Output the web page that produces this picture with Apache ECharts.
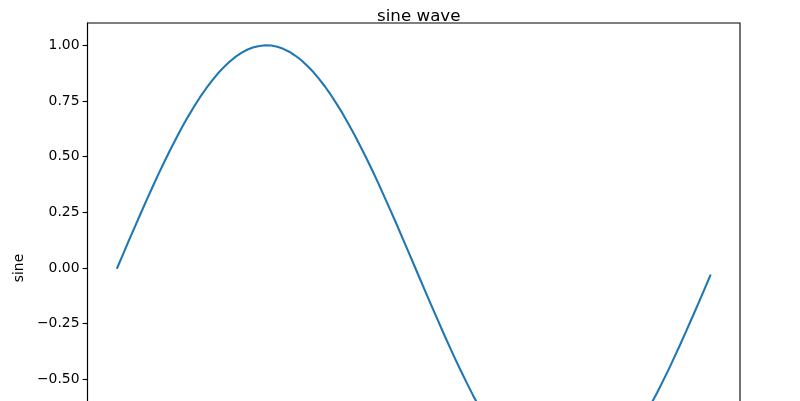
<!DOCTYPE html>
<html>
<head>
<meta charset="utf-8">
<script src="https://cdn.jsdelivr.net/npm/echarts@6/dist/echarts.min.js"></script>
<style>
html,body{margin:0;padding:0;background:#fff;}
#chart{width:800px;height:401px;}
</style>
</head>
<body>
<div id="chart"></div>
<script>
// x values (radians)
var xValues = [0,0.0625,0.125,0.1875,0.25,0.3125,0.375,0.4375,0.5,0.5625,
  0.625,0.6875,0.75,0.8125,0.875,0.9375,1,1.0625,1.125,1.1875,
  1.25,1.3125,1.375,1.4375,1.5,1.5625,1.625,1.6875,1.75,1.8125,
  1.875,1.9375,2,2.0625,2.125,2.1875,2.25,2.3125,2.375,2.4375,
  2.5,2.5625,2.625,2.6875,2.75,2.8125,2.875,2.9375,3,3.0625,
  3.125,3.1875,3.25,3.3125,3.375,3.4375,3.5,3.5625,3.625,3.6875,
  3.75,3.8125,3.875,3.9375,4,4.0625,4.125,4.1875,4.25,4.3125,
  4.375,4.4375,4.5,4.5625,4.625,4.6875,4.75,4.8125,4.875,4.9375,
  5,5.0625,5.125,5.1875,5.25,5.3125,5.375,5.4375,5.5,5.5625,
  5.625,5.6875,5.75,5.8125,5.875,5.9375,6,6.0625,6.125,6.1875,
  6.25];
// sine values
var sineValues = [0.000,0.062,0.125,0.186,0.247,0.307,0.366,0.424,0.479,0.533,
  0.585,0.635,0.682,0.726,0.768,0.806,0.841,0.874,0.902,0.927,
  0.949,0.967,0.981,0.991,0.997,1.000,0.999,0.993,0.984,0.971,
  0.954,0.934,0.909,0.882,0.850,0.816,0.778,0.737,0.694,0.647,
  0.598,0.547,0.494,0.439,0.382,0.323,0.263,0.203,0.141,0.079,
  0.017,-0.046,-0.108,-0.170,-0.231,-0.292,-0.351,-0.409,-0.465,-0.519,
  -0.572,-0.622,-0.669,-0.715,-0.757,-0.796,-0.832,-0.865,-0.895,-0.921,
  -0.944,-0.962,-0.978,-0.989,-0.996,-1.000,-0.999,-0.995,-0.987,-0.975,
  -0.959,-0.939,-0.916,-0.889,-0.859,-0.825,-0.789,-0.748,-0.706,-0.660,
  -0.611,-0.561,-0.508,-0.454,-0.397,-0.339,-0.279,-0.219,-0.158,-0.096,
  -0.033];
var yTicks = [-1.00,-0.75,-0.50,-0.25,0.00,0.25,0.50,0.75,1.00];
var xTicks = [0,1,2,3,4,5,6];
var chartTitle = 'sine wave';
var yName = 'sine';

var points = xValues.map(function(x,i){ return [x, sineValues[i]]; });
function fmt(v){
  var s = Number(v).toFixed(2);
  if (s.charAt(0) === '-') s = '\u2212' + s.slice(1);
  return s;
}
var FONT = 'DejaVu Sans';
var chart = echarts.init(document.getElementById('chart'), null, {renderer:'canvas'});
chart.setOption({
  animation:false,
  backgroundColor:'#ffffff',
  title:{
    text:chartTitle,
    left:413.75,
    top:3,
    textAlign:'center',
    textStyle:{fontFamily:FONT,fontSize:16.7,fontWeight:'normal',color:'#000'}
  },
  grid:{
    left:87.5, top:23, right:60, bottom:-112,
    containLabel:false,
    outerBoundsMode:'none',
    show:true, borderColor:'#000', borderWidth:1.1, backgroundColor:'transparent'
  },
  xAxis:{
    type:'value',
    min:-0.3125, max:6.5625,
    splitLine:{show:false},
    axisLine:{show:true,onZero:false,lineStyle:{color:'#000',width:1.1}},
    axisTick:{show:true,length:4.9,customValues:xTicks,lineStyle:{color:'#000',width:1.1}},
    axisLabel:{show:true,customValues:xTicks,fontFamily:FONT,fontSize:13.9,color:'#000'}
  },
  yAxis:{
    type:'value',
    min:-1.1, max:1.1,
    name:yName,
    nameLocation:'middle',
    nameGap:52,
    nameTextStyle:{fontFamily:FONT,fontSize:13.9,color:'#000'},
    splitLine:{show:false},
    axisLine:{show:true,onZero:false,lineStyle:{color:'#000',width:1.1}},
    axisTick:{show:true,length:4.9,customValues:yTicks,lineStyle:{color:'#000',width:1.1}},
    axisLabel:{show:true,customValues:yTicks,margin:8,formatter:fmt,fontFamily:FONT,fontSize:13.9,color:'#000'}
  },
  series:[{
    type:'line',
    data:points,
    showSymbol:false,
    symbol:'none',
    smooth:false,
    lineStyle:{color:'#1f77b4',width:2.1,cap:'round',join:'round'},
    itemStyle:{color:'#1f77b4'}
  }]
});
</script>
</body>
</html>
